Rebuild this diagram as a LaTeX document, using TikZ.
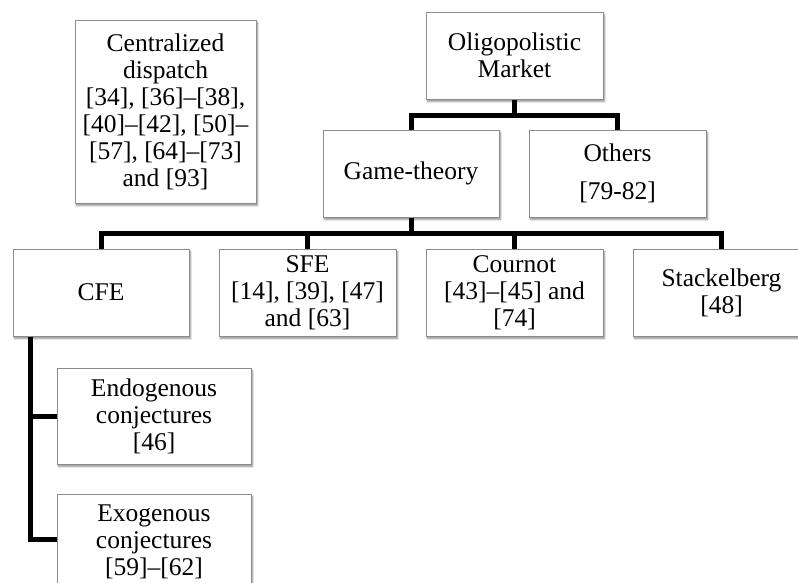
\documentclass[tikz,border=0pt]{standalone}
\usepackage{fontspec}
\setmainfont{Liberation Serif}
\usetikzlibrary{calc,shadows.blur}
\definecolor{boxline}{RGB}{140,140,140}
\tikzset{
  box/.style={draw=boxline, line width=1pt, fill=white, inner sep=0pt,
    align=center, minimum width=177pt, minimum height=87pt,
    font=\fontsize{25.5}{27}\selectfont,
    blur shadow={shadow xshift=1.5pt, shadow yshift=-2.5pt, shadow blur steps=6, shadow opacity=45}},
  conn/.style={line width=5pt, line join=miter, black}
}
\begin{document}
\begin{tikzpicture}[x=1pt,y=-1pt]
\useasboundingbox (0,0) rectangle (798,582);
\clip (0,0) rectangle (798,582);
\node[box, minimum width=181pt, minimum height=183pt] (cd) at (165.5,111.5)
  {Centralized\\dispatch\\{[34], [36]--[38],}\\{[40]--[42], [50]--}\\{[57], [64]--[73]}\\and [93]};
\node[box] (om) at (514.5,55.5) {Oligopolistic\\Market};
\node[box, minimum width=176pt] (gt) at (411,173.5) {Game-theory};
\node[box] (ot) at (617.5,173.5) {Others\\[11pt]{[79-82]}};
\node[box, minimum width=176pt] (cfe) at (101,292.5) {CFE};
\node[box] (sfe) at (307.5,292.5) {SFE\\{[14], [39], [47]}\\and [63]};
\node[box] (cou) at (514.5,292.5) {Cournot\\{[43]--[45] and}\\{[74]}};
\node[box] (sta) at (721.5,292.5) {Stackelberg\\{[48]}};
\node[box, minimum width=194pt, minimum height=96pt] (endo) at (154,416) {Endogenous\\conjectures\\{[46]}};
\node[box, minimum width=194pt, minimum height=96pt] (exo) at (154,542) {Exogenous\\conjectures\\{[59]--[62]}};
\draw[conn] (om.south) -- ++(0,16) -| (gt.north);
\draw[conn] (om.south) -- ++(0,16) -| (ot.north);
\draw[conn] (gt.south) -- ++(0,16) -| (cfe.north);
\draw[conn] (gt.south) -- ++(0,16) -| (sfe.north);
\draw[conn] (gt.south) -- ++(0,16) -| (cou.north);
\draw[conn] (gt.south) -- ++(0,16) -| (sta.north);
\coordinate (cfetrunk) at ($(cfe.south west)+(18,0)$);
\draw[conn] (cfetrunk) |- (endo.west);
\draw[conn] (cfetrunk) |- ($(exo.west)+(0,-3)$);
\end{tikzpicture}
\end{document}
